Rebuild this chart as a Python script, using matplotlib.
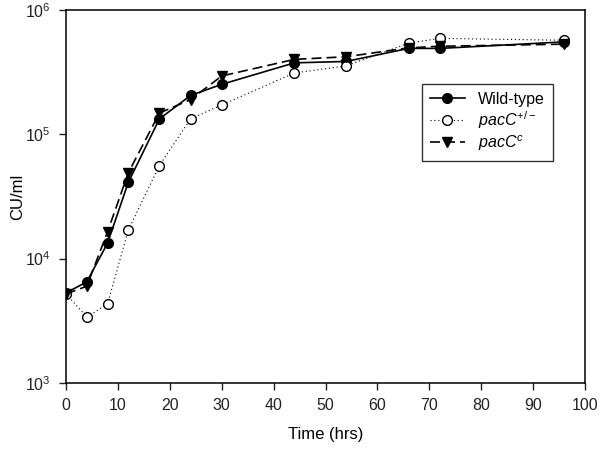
import numpy as np
from matplotlib import pyplot as plt
from matplotlib.ticker import LogLocator, NullLocator

plt.rcParams['font.family'] = ['Liberation Sans', 'DejaVu Sans']
plt.rcParams['mathtext.fontset'] = 'custom'
plt.rcParams['mathtext.rm'] = 'Liberation Sans'
plt.rcParams['mathtext.it'] = 'Liberation Sans:italic'

# time points (hrs)
time = [0, 4, 8, 12, 18, 24, 30, 44, 54, 66, 72, 96]
# CU/ml for each strain
wild_type = [5300, 6500, 13300, 41000, 133000, 205000, 252000, 375000, 385000, 490000, 490000, 553000]
pacc_het = [5200, 3400, 4300, 17000, 56000, 133000, 172000, 311000, 355000, 540000, 590000, 570000]
pacc_c = [5200, 6000, 16400, 48900, 148000, 190000, 294000, 400000, 420000, 495000, 510000, 530000]

fig = plt.figure(figsize=(6, 4.49), dpi=100)
ax = fig.add_axes([0.11, 0.147, 0.865, 0.831])

ax.plot(time, wild_type, color='black', linestyle='-', linewidth=1.2,
        marker='o', markersize=7, markerfacecolor='black', label='Wild-type')
ax.plot(time, pacc_het, color='black', linestyle=(0, (1, 2.5)), linewidth=0.8,
        marker='o', markersize=7, markerfacecolor='white', markeredgewidth=1.0,
        label=r'$\it{pacC}^{+/-}$')
ax.plot(time, pacc_c, color='black', linestyle=(0, (6, 3)), linewidth=1.2,
        marker='v', markersize=7.5, markerfacecolor='black', label=r'$\it{pacC}^{c}$')

ax.set_yscale('log')
ax.set_xlim(0, 100)
ax.set_ylim(1e3, 1e6)
ax.set_xticks(np.arange(0, 101, 10))
ax.yaxis.set_major_locator(LogLocator(base=10))
ax.yaxis.set_minor_locator(NullLocator())
ax.tick_params(direction='out', length=5, width=1, labelsize=11.5, pad=6, colors='#222222')
ax.tick_params(top=False, right=False)
for s in ax.spines.values():
    s.set_linewidth(1.1)

ax.set_xlabel('Time (hrs)', fontsize=12, labelpad=10)
ax.set_ylabel('CU/ml', fontsize=12, labelpad=0)

leg = ax.legend(loc='upper right', bbox_to_anchor=(0.953, 0.824), fontsize=11.5,
                frameon=True, fancybox=False, edgecolor='black',
                handlelength=2.2, borderpad=0.5, labelspacing=0.15)
leg.get_frame().set_linewidth(1.0)

plt.savefig('out.png', dpi=100)
